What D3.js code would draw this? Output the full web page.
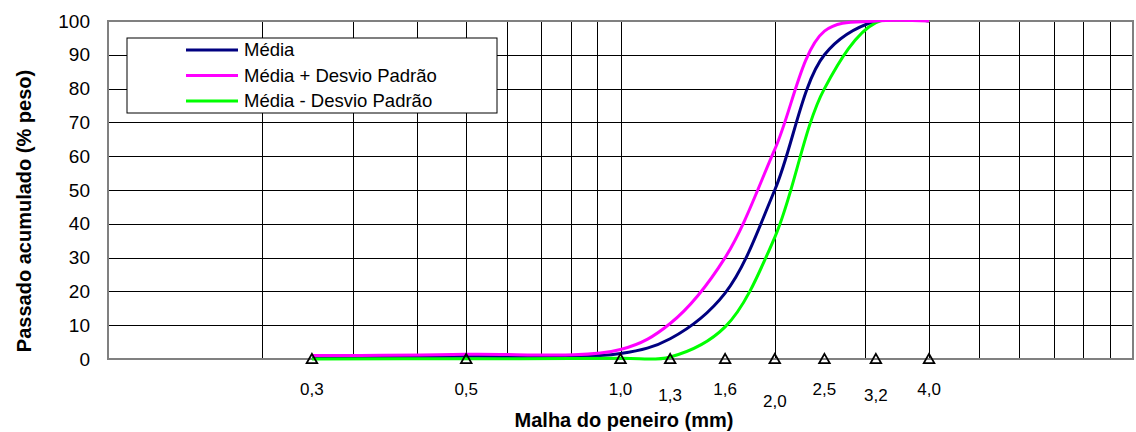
<!DOCTYPE html>
<html>
<head>
<meta charset="utf-8">
<script src="https://cdn.jsdelivr.net/npm/d3@7"></script>
<style>
  body { margin: 0; background: #fff; }
  text { font-family: "Liberation Sans", Arial, sans-serif; fill: #000; }
</style>
</head>
<body>
<div id="chart"></div>
<script>
/* Curva granulometrica */
var sieves = [0.25, 0.5, 1.0, 1.25, 1.6, 2.0, 2.5, 3.15, 4.0];
var sieveLabels = ["0,3", "0,5", "1,0", "1,3", "1,6", "2,0", "2,5", "3,2", "4,0"];
var media = [0.5, 0.8, 1.6, 6.0, 19.5, 50, 90, 100, 100];
var mediaMais = [1.0, 1.4, 2.8, 10.5, 30, 62, 97, 100, 100];
var mediaMenos = [0, 0.1, 0.2, 0.6, 9.5, 36, 80, 99.5, 100];
var seriesNames = ["Média", "Média + Desvio Padrão", "Média - Desvio Padrão"];
var yTicks = [0, 10, 20, 30, 40, 50, 60, 70, 80, 90, 100];

var W = 1136, H = 432;
var margin = {top: 21, right: 3, bottom: 73, left: 108};
var width = W - margin.left - margin.right,
    height = H - margin.top - margin.bottom;

var svg = d3.select("#chart").append("svg")
    .attr("width", W)
    .attr("height", H);

var g = svg.append("g")
    .attr("transform", "translate(" + margin.left + "," + margin.top + ")");

var x = d3.scaleLog().domain([0.1, 10]).range([0, width]);
var y = d3.scaleLinear().domain([0, 100]).range([height, 0]);

// grid
g.append("g")
    .attr("class", "grid")
    .attr("transform", "translate(0," + height + ")")
    .call(d3.axisBottom(x).tickSize(-height).tickFormat(""))
    .call(function(s) { s.select(".domain").remove(); });

g.append("g")
    .attr("class", "grid")
    .call(d3.axisLeft(y).tickValues(yTicks).tickSize(-width).tickFormat(""))
    .call(function(s) { s.select(".domain").remove(); });

g.selectAll(".grid line")
    .attr("stroke", "#000")
    .attr("stroke-width", 1)
    .attr("shape-rendering", "crispEdges");

// border
g.append("rect")
    .attr("width", width)
    .attr("height", height)
    .attr("fill", "none")
    .attr("stroke", "#808080")
    .attr("stroke-width", 2);

// y labels
g.append("g")
    .call(d3.axisLeft(y).tickValues(yTicks).tickSize(0).tickPadding(18))
    .call(function(s) {
        s.select(".domain").remove();
        s.selectAll("text")
            .style("font-size", "19px")
            .style("font-family", "Liberation Sans, Arial, sans-serif");
    });

// curves (clipped only above 100 %)
g.append("clipPath").attr("id", "clip")
  .append("rect")
    .attr("y", -1)
    .attr("width", width)
    .attr("height", height + 10);

var line = d3.line()
    .x(function(d, i) { return x(sieves[i]); })
    .y(function(d) { return y(d); })
    .curve(d3.curveCatmullRom.alpha(0.5));

var series = [
    {name: seriesNames[0], values: media, color: "#000080"},
    {name: seriesNames[2], values: mediaMenos, color: "#00ff00"},
    {name: seriesNames[1], values: mediaMais, color: "#ff00ff"}
];

g.append("g").attr("clip-path", "url(#clip)")
  .selectAll("path")
    .data(series)
    .enter().append("path")
    .attr("d", function(d) { return line(d.values); })
    .attr("fill", "none")
    .attr("stroke", function(d) { return d.color; })
    .attr("stroke-width", 3);

// sieve markers + labels
var labelRow = [0, 0, 0, 1, 0, 2, 0, 1, 0];

g.selectAll(".marker")
    .data(sieves)
    .enter().append("path")
    .attr("class", "marker")
    .attr("d", d3.symbol().type(d3.symbolTriangle).size(48))
    .attr("transform", function(d) { return "translate(" + x(d) + "," + (height + 1) + ")"; })
    .attr("fill", "none")
    .attr("stroke", "#000")
    .attr("stroke-width", 1.8);

g.selectAll(".slabel")
    .data(sieveLabels)
    .enter().append("text")
    .attr("class", "slabel")
    .attr("x", function(d, i) { return x(sieves[i]); })
    .attr("y", function(d, i) { return height + 36 + labelRow[i] * 6; })
    .attr("text-anchor", "middle")
    .style("font-size", "17px")
    .text(function(d) { return d; });

// titles
svg.append("text")
    .attr("x", 624)
    .attr("y", 427)
    .attr("text-anchor", "middle")
    .style("font-size", "20px")
    .style("font-weight", "bold")
    .text("Malha do peneiro (mm)");

svg.append("text")
    .attr("transform", "translate(31,211) rotate(-90)")
    .attr("text-anchor", "middle")
    .style("font-size", "20px")
    .style("font-weight", "bold")
    .text("Passado acumulado (% peso)");

// legend
var legend = svg.append("g").attr("transform", "translate(127,38)");
legend.append("rect")
    .attr("width", 370)
    .attr("height", 75)
    .attr("fill", "#fff")
    .attr("stroke", "#000")
    .attr("stroke-width", 1);

var legendItems = [series[0], series[2], series[1]];
var item = legend.selectAll(".item")
    .data(legendItems)
    .enter().append("g")
    .attr("transform", function(d, i) { return "translate(0," + (12 + i * 25.5) + ")"; });

item.append("line")
    .attr("x1", 59).attr("x2", 111)
    .attr("stroke", function(d) { return d.color; })
    .attr("stroke-width", 3);

item.append("text")
    .attr("x", 117)
    .attr("dy", "0.35em")
    .style("font-size", "18.5px")
    .text(function(d) { return d.name; });
</script>
</body>
</html>
